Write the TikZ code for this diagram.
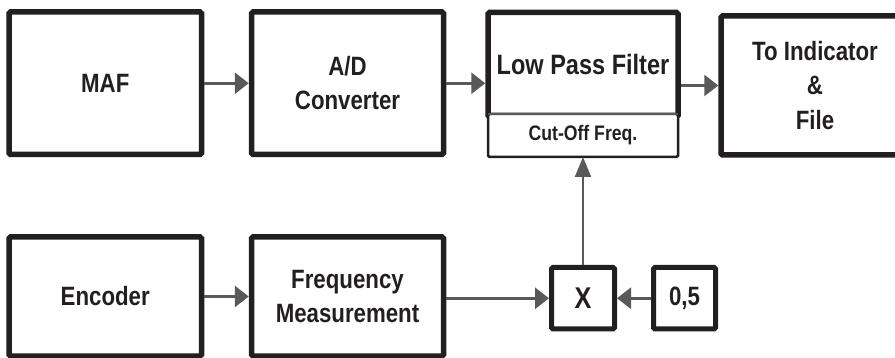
\documentclass[tikz,border=0pt]{standalone}
\usepackage{fontspec}
\setmainfont[FakeStretch=0.84]{Liberation Sans}
\usetikzlibrary{arrows.meta}
\definecolor{ink}{HTML}{231F20}
\definecolor{wire}{HTML}{58595B}
\tikzset{
  blk/.style={draw=ink, line width=5.5pt, rounded corners=1.5pt, fill=white,
    inner sep=0pt, text=ink, align=center,
    font=\bfseries\fontsize{26.5}{34.5}\selectfont},
  arr/.style={draw=wire, line width=3pt, -{Triangle[length=14pt,width=21pt]}},
  thinarr/.style={draw=wire, line width=2pt, -{Triangle[length=20pt,width=16pt]}}
}
\begin{document}
\begin{tikzpicture}[x=1pt,y=-1pt]
\useasboundingbox (0,0) rectangle (895,358);
\clip (0,0) rectangle (895,358);
% top row
\node[blk, minimum width=192.5pt, minimum height=142.5pt] (maf) at (105.25,83.25) {MAF};
\node[blk, minimum width=192pt, minimum height=142.5pt] (ad) at (347.5,83.25) {A/D\\Converter};
\node[blk, minimum width=190pt, minimum height=104.25pt, text depth=0pt, font=\bfseries\fontsize{28}{34}\selectfont] (lpf) at (583,64.625) {Low Pass Filter};
\node[blk, draw=ink, line width=2.5pt, outer sep=0pt, minimum width=190pt, minimum height=43pt, font=\bfseries\fontsize{21}{25}\selectfont] (cut) at (583,135.5) {Cut-Off Freq.};
\draw[wire, line width=2pt] (cut.north west) -- (cut.north east);
\node[blk, minimum width=188pt, minimum height=139pt] (ind) at (815,85.5) {To Indicator\\\&\\File};
% bottom row
\node[blk, minimum width=192.5pt, minimum height=119pt] (enc) at (105.25,296.5) {Encoder};
\node[blk, minimum width=192pt, minimum height=119pt] (freq) at (347.5,296.5) {Frequency\\Measurement};
\node[blk, line width=5pt, minimum width=63pt, minimum height=61.5pt, font=\bfseries\fontsize{30}{34}\selectfont] (xm) at (583,298.25) {X};
\node[blk, line width=5pt, minimum width=62pt, minimum height=61.5pt] (half) at (684.5,298.25) {0,5};
% connectors
\draw[arr] (maf.east) -- (ad.west);
\draw[arr] (ad.east) -- (ad.east -| lpf.west);
\draw[arr] (lpf.east |- ind.west) -- (ind.west);
\draw[arr] (enc.east) -- (freq.west);
\draw[arr] (freq.east |- xm.west) -- (xm.west);
\draw[arr] (half.west) -- (xm.east);
\draw[thinarr] (xm.north) -- (cut.south);
\end{tikzpicture}
\end{document}
